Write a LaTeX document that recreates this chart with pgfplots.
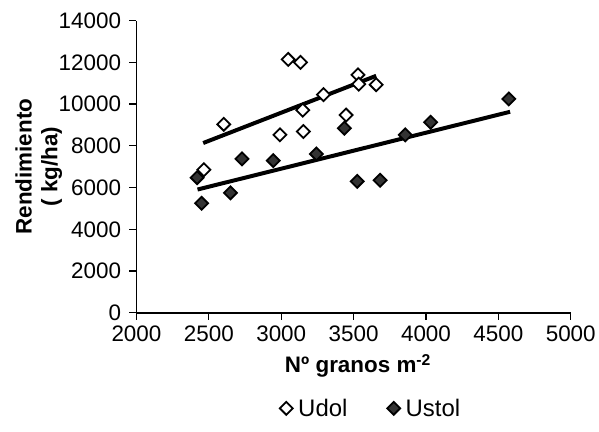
\documentclass[border=0pt]{standalone}
\usepackage{fontspec}
\setmainfont{Liberation Sans}
\usepackage{pgfplots}
\pgfplotsset{compat=1.18}
\definecolor{fillgray}{RGB}{51,51,51}
\begin{document}
\begin{tikzpicture}
\begin{axis}[
  at={(0,0)}, anchor=south west,
  scale only axis, width=436pt, height=293.3pt,
  xmin=2000, xmax=5000, ymin=0, ymax=14000,
  xtick={2000,2500,...,5000}, ytick={0,2000,...,14000},
  axis x line*=bottom, axis y line*=left,
  axis line style={-, line width=1.5pt, black},
  tick align=outside, major tick length=7pt,
  tick style={black, line width=1.3pt},
  scaled ticks=false,
  /pgf/number format/assume math mode=true,
  /pgf/number format/set thousands separator={},
  tick label style={font=\fontsize{22.5}{26}\selectfont},
  yticklabel style={xshift=-5pt},
  xticklabel style={yshift=-3pt},
  xlabel={\textbf{Nº granos m\textsuperscript{-2}}},
  xlabel style={font=\fontsize{22.5}{26}\selectfont, at={(axis description cs:0.51,-0.181)}, anchor=center},
  ylabel={\textbf{Rendimiento}\\\textbf{( kg/ha)}},
  ylabel style={font=\fontsize{22.5}{26}\selectfont, align=center, at={(axis description cs:-0.225,0.5)}, anchor=center},
  legend columns=2,
  legend style={draw=none, fill=none, font=\fontsize{24}{27}\selectfont,
    at={(axis description cs:0.54,-0.327)}, anchor=center,
    /tikz/every odd column/.append style={column sep=3.5pt},
    /tikz/every even column/.append style={column sep=38pt}},
  legend cell align=left,
  clip=false,
]
\addplot[only marks, mark=square*, mark size=4.6pt,
  mark options={rotate=45, fill=white, draw=black, line width=1.8pt}]
  coordinates {
  (2466,6855) (2603,9033) (2991,8527) (3048,12141) (3133,11999) (3149,9711)
  (3153,8683) (3292,10455) (3448,9474) (3530,11402) (3535,10957) (3656,10928)
  };
\addlegendentry{Udol}
\addplot[only marks, mark=square*, mark size=4.6pt,
  mark options={rotate=45, fill=fillgray, draw=black, line width=1.8pt}]
  coordinates {
  (2419,6475) (2450,5244) (2649,5746) (2729,7375) (2945,7295) (3243,7612)
  (3436,8844) (3525,6300) (3683,6348) (3857,8527) (4032,9128) (4572,10246)
  };
\addlegendentry{Ustol}
\addplot[black, line width=4pt, forget plot] coordinates {(2461,8134) (3656,11355)};
\addplot[black, line width=4pt, forget plot] coordinates {(2422,5907) (4581,9631)};
\end{axis}
\path[use as bounding box] (-137pt,-119pt) rectangle (462pt,314pt);
\end{tikzpicture}
\end{document}
